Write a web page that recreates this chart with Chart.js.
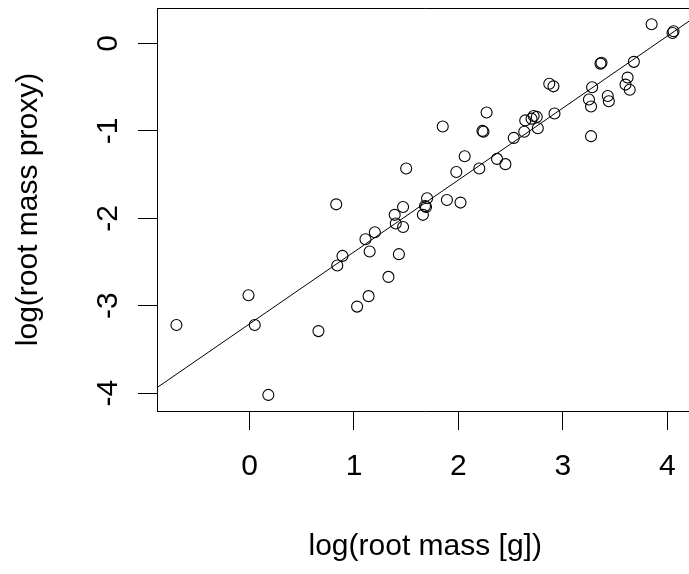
<!DOCTYPE html>
<html>
<head>
<meta charset="utf-8">
<script src="https://cdn.jsdelivr.net/npm/chart.js@4.4.1/dist/chart.umd.min.js"></script>
<style>
    html, body { margin: 0; padding: 0; background: #fff; overflow: hidden; }
    #plot { display: block; }
</style>
</head>
<body>
<canvas id="plot" width="700" height="574"></canvas>
<script>
// log root mass (x) and log proxy (y)
var rootMass = [-0.70, -0.01, 0.05, 0.18, 0.66, 1.03, 1.14, 1.33, 1.43, 0.83,
    0.84, 0.89, 1.11, 1.20, 1.15, 1.39, 1.40, 1.47, 1.47, 1.50,
    1.66, 1.68, 1.70, 1.69, 1.85, 1.89, 1.98, 2.02, 2.06, 2.20,
    2.23, 2.24, 2.27, 2.37, 2.45, 2.53, 2.63, 2.64, 2.70, 2.72,
    2.75, 2.76, 2.92, 2.87, 2.91, 3.25, 3.27, 3.28, 3.27, 3.36,
    3.37, 3.43, 3.44, 3.60, 3.62, 3.64, 3.68, 3.85, 4.05, 4.06];
var proxy = [-3.22, -2.88, -3.22, -4.02, -3.29, -3.01, -2.89, -2.67, -2.41, -1.84,
    -2.54, -2.43, -2.24, -2.16, -2.38, -1.96, -2.06, -2.10, -1.87, -1.43,
    -1.96, -1.86, -1.77, -1.87, -0.95, -1.79, -1.47, -1.82, -1.29, -1.43,
    -1.00, -1.01, -0.79, -1.32, -1.38, -1.08, -1.01, -0.88, -0.86, -0.83,
    -0.84, -0.97, -0.80, -0.46, -0.49, -0.64, -0.72, -0.50, -1.06, -0.23,
    -0.22, -0.60, -0.66, -0.47, -0.39, -0.53, -0.21, 0.22, 0.12, 0.14];

// fitted line end points
var fitX = [-0.89, 4.25];
var fitY = [-3.94, 0.29];

var xTicks = [0, 1, 2, 3, 4];
var yTicks = [0, -1, -2, -3, -4];

var points = rootMass.map(function (v, i) { return { x: v, y: proxy[i] }; });
var fitLine = fitX.map(function (v, i) { return { x: v, y: fitY[i] }; });

var FONT = "'Liberation Sans', Arial, sans-serif";

// box (top/right sides) and rotated y tick labels like R
var rStyle = {
    id: "rStyle",
    afterDraw: function (chart) {
        var ctx = chart.ctx;
        var a = chart.chartArea;
        ctx.save();
        ctx.strokeStyle = "#000";
        ctx.lineWidth = 1;
        ctx.beginPath();
        ctx.moveTo(a.left, Math.round(a.top) + 0.5);
        ctx.lineTo(Math.round(a.right) + 0.5, Math.round(a.top) + 0.5);
        ctx.lineTo(Math.round(a.right) + 0.5, a.bottom);
        ctx.stroke();

        var ys = chart.scales.y;
        ctx.fillStyle = "#000";
        ctx.font = "30px " + FONT;
        ctx.textAlign = "center";
        ctx.textBaseline = "middle";
        ys.ticks.forEach(function (t) {
            ctx.save();
            ctx.translate(109, ys.getPixelForValue(t.value));
            ctx.rotate(-Math.PI / 2);
            ctx.fillText(String(t.value), 0, 0);
            ctx.restore();
        });
        ctx.restore();
    }
};

new Chart(document.getElementById("plot"), {
    type: "scatter",
    data: {
        datasets: [
            {
                data: points,
                pointStyle: "circle",
                pointRadius: 5.5,
                pointBorderWidth: 1.1,
                borderColor: "#000",
                backgroundColor: "rgba(0,0,0,0)",
            },
            {
                type: "line",
                data: fitLine,
                borderColor: "#000",
                borderWidth: 1,
                pointRadius: 0,
                fill: false,
            },
        ],
    },
    options: {
        responsive: false,
        animation: false,
        layout: { padding: { top: 8, right: 5, left: 0, bottom: 0 } },
        plugins: {
            legend: { display: false },
            tooltip: { enabled: false },
        },
        scales: {
            x: {
                type: "linear",
                min: -0.886,
                max: 4.25,
                afterBuildTicks: function (s) {
                    s.ticks = xTicks.map(function (v) { return { value: v }; });
                },
                afterFit: function (s) { s.height = 163; },
                grid: { drawOnChartArea: false, tickLength: 19, color: "#000", lineWidth: 1 },
                border: { display: true, color: "#000", width: 1 },
                ticks: { color: "#000", font: { family: FONT, size: 30 }, padding: 19 },
                title: {
                    display: true,
                    text: "log(root mass [g])",
                    color: "#000",
                    font: { family: FONT, size: 30 },
                    padding: { top: 0, bottom: 9 },
                },
            },
            y: {
                type: "linear",
                min: -4.204,
                max: 0.406,
                afterBuildTicks: function (s) {
                    s.ticks = yTicks.map(function (v) { return { value: v }; });
                },
                afterFit: function (s) { s.width = 157; },
                grid: { drawOnChartArea: false, tickLength: 19, color: "#000", lineWidth: 1 },
                border: { display: true, color: "#000", width: 1 },
                ticks: { display: false },
                title: {
                    display: true,
                    text: "log(root mass proxy)",
                    color: "#000",
                    font: { family: FONT, size: 30 },
                    padding: { top: 11, bottom: 0 },
                },
            },
        },
    },
    plugins: [rStyle],
});
</script>
</body>
</html>
